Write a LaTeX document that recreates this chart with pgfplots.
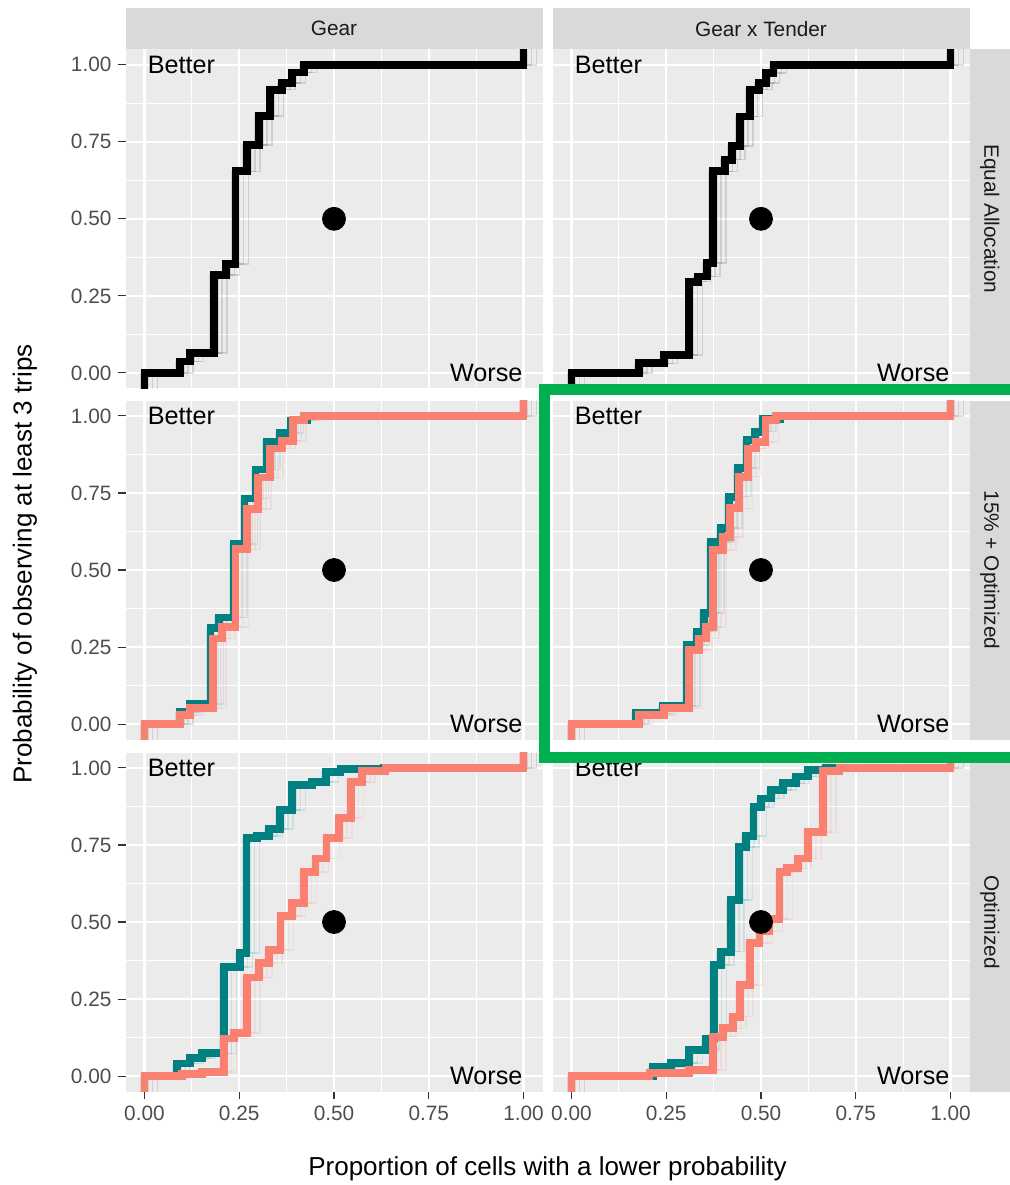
\documentclass[border=0pt]{standalone}
\usepackage{fontspec}
\setmainfont{Liberation Sans}
\usepackage{pgfplots}
\pgfplotsset{compat=1.18}
\usepackage{pgfplotstable}

\definecolor{panelbg}{HTML}{EBEBEB}
\definecolor{stripbg}{HTML}{D9D9D9}
\definecolor{tickgrey}{HTML}{4D4D4D}
\definecolor{tickmark}{HTML}{333333}
\definecolor{stripfg}{HTML}{1A1A1A}
\definecolor{tealc}{HTML}{008080}
\definecolor{salmonc}{HTML}{FA8072}
\definecolor{boxgreen}{HTML}{00B050}

% step curves (x, level from x on)
\pgfplotstableread{
x y
0 -0.1
0 0
0.093 0.037
0.121 0.064
0.183 0.318
0.216 0.354
0.240 0.654
0.271 0.740
0.302 0.834
0.332 0.919
0.363 0.940
0.390 0.975
0.420 1.000
1 1
1 1.2
}\gearEq

\pgfplotstableread{
x y
0 -0.1
0 0
0.178 0.031
0.245 0.058
0.311 0.296
0.333 0.313
0.357 0.356
0.373 0.654
0.404 0.692
0.424 0.737
0.445 0.832
0.470 0.919
0.494 0.940
0.514 0.973
0.533 1.000
1 1
1 1.2
}\tendEq

\pgfplotstableread{
x y
0 -0.1
0 0
0.093 0.029
0.121 0.051
0.181 0.278
0.205 0.316
0.240 0.567
0.271 0.697
0.299 0.800
0.331 0.894
0.363 0.919
0.392 0.988
0.420 1.000
1 1
1 1.2
}\gearMixS

\pgfplotstableread{
x y
0 -0.1
0 0
0.093 0.040
0.121 0.065
0.174 0.311
0.196 0.346
0.236 0.584
0.264 0.732
0.293 0.826
0.324 0.916
0.357 0.945
0.385 0.985
0.430 1.000
1 1
1 1.2
}\gearMixT

\pgfplotstableread{
x y
0 -0.1
0 0
0.179 0.029
0.245 0.051
0.311 0.240
0.336 0.278
0.355 0.316
0.373 0.565
0.399 0.608
0.419 0.700
0.443 0.803
0.465 0.894
0.487 0.916
0.512 0.988
0.540 1.000
1 1
1 1.2
}\tendMixS

\pgfplotstableread{
x y
0 -0.1
0 0
0.170 0.035
0.240 0.058
0.305 0.256
0.330 0.300
0.350 0.360
0.368 0.590
0.395 0.636
0.415 0.738
0.440 0.831
0.462 0.922
0.485 0.949
0.505 0.990
0.550 1.000
1 1
1 1.2
}\tendMixT

\pgfplotstableread{
x y
0 -0.1
0 0
0.086 0.041
0.121 0.058
0.152 0.074
0.209 0.355
0.251 0.399
0.269 0.772
0.297 0.779
0.328 0.801
0.357 0.864
0.390 0.945
0.442 0.955
0.478 0.988
0.517 0.996
0.631 1.000
1 1
1 1.2
}\gearOptT

\pgfplotstableread{
x y
0 -0.1
0 0
0.100 0.006
0.152 0.013
0.209 0.122
0.236 0.139
0.271 0.320
0.302 0.366
0.328 0.409
0.359 0.519
0.390 0.561
0.420 0.663
0.451 0.706
0.480 0.772
0.513 0.837
0.544 0.955
0.574 0.991
0.636 1.000
1 1
1 1.2
}\gearOptS

\pgfplotstableread{
x y
0 -0.1
0 0
0.215 0.030
0.263 0.043
0.311 0.084
0.355 0.122
0.375 0.360
0.395 0.404
0.421 0.571
0.443 0.744
0.461 0.779
0.480 0.874
0.500 0.901
0.527 0.929
0.558 0.950
0.593 0.972
0.624 0.994
0.672 1.000
1 1
1 1.2
}\tendOptT

\pgfplotstableread{
x y
0 -0.1
0 0
0.206 0.010
0.311 0.020
0.373 0.128
0.399 0.155
0.426 0.193
0.445 0.295
0.470 0.431
0.496 0.469
0.522 0.509
0.549 0.663
0.568 0.674
0.597 0.706
0.624 0.793
0.663 0.990
0.707 1.000
1 1
1 1.2
}\tendOptS

\pgfplotsset{
  panel/.style={
    scale only axis, width=208.5pt, height=169.5pt, anchor=north west,
    xmin=-0.05, xmax=1.05, ymin=-0.05, ymax=1.05,
    axis background/.style={fill=panelbg},
    axis line style={draw=none},
    xtick={0,0.25,0.5,0.75,1}, ytick={0,0.25,0.5,0.75,1},
    minor xtick={0.125,0.375,0.625,0.875},
    minor ytick={0.125,0.375,0.625,0.875},
    grid=both,
    major grid style={draw=white, line width=1.1pt},
    minor grid style={draw=white, line width=0.55pt},
    minor tick length=0pt, major tick length=3.5pt, tick align=outside,
    xtick pos=bottom, ytick pos=left,
    xtick style={draw=none}, ytick style={draw=none},
    ticklabel style={font=\fontsize{10.4}{12}\selectfont, text=tickgrey},
    xticklabel style={/pgf/number format/.cd, fixed, fixed zerofill,
      precision=2, assume math mode=true},
    yticklabel style={/pgf/number format/.cd, fixed, fixed zerofill,
      precision=2, assume math mode=true},
    no markers,
  },
  noxl/.style={xticklabels={}},
  noyl/.style={yticklabels={}},
  xt/.style={xtick style={draw=tickmark, line width=0.55pt}},
  yt/.style={ytick style={draw=tickmark, line width=0.55pt}},
  main/.style={const plot, line width=3.9pt},
  ens/.style={const plot, line width=0.8pt, opacity=0.12},
}

\newcommand{\panelmarks}{%
  \addplot[only marks, mark=*, mark size=5.75pt, black] coordinates {(0.5,0.5)};
  \node[anchor=west, inner sep=0pt, font=\fontsize{12.6}{14}\selectfont]
    at (axis cs:0.008,1) {Better};
  \node[anchor=east, inner sep=0pt, font=\fontsize{12.6}{14}\selectfont]
    at (axis cs:0.998,0) {Worse};
}

% faint copies of a curve, for the spread of the replicate runs
\newcommand{\spread}[2]{%
  \addplot[ens, draw=#1, xshift=-2pt] table {#2};
  \addplot[ens, draw=#1, xshift=2pt] table {#2};
  \addplot[ens, draw=#1, xshift=4pt] table {#2};
  \addplot[ens, draw=#1, xshift=6.5pt] table {#2};
}

\begin{document}
\begin{tikzpicture}
\useasboundingbox (0,0) rectangle (505pt,-592.5pt);

% row 1: Equal Allocation
\begin{axis}[panel, noxl, yt, at={(62.75pt,-24.65pt)}]
  \spread{black}{\gearEq}
  \addplot[main, draw=black] table {\gearEq};
  \panelmarks
\end{axis}
\begin{axis}[panel, noxl, noyl, at={(276.25pt,-24.65pt)}]
  \spread{black}{\tendEq}
  \addplot[main, draw=black] table {\tendEq};
  \panelmarks
\end{axis}

% row 2: 15% + Optimized
\begin{axis}[panel, noxl, yt, at={(62.75pt,-200.25pt)}]
  \spread{tealc}{\gearMixT}
  \spread{salmonc}{\gearMixS}
  \addplot[main, draw=tealc] table {\gearMixT};
  \addplot[main, draw=salmonc] table {\gearMixS};
  \panelmarks
\end{axis}
\begin{axis}[panel, noxl, noyl, at={(276.25pt,-200.25pt)}]
  \spread{tealc}{\tendMixT}
  \spread{salmonc}{\tendMixS}
  \addplot[main, draw=tealc] table {\tendMixT};
  \addplot[main, draw=salmonc] table {\tendMixS};
  \panelmarks
\end{axis}

% row 3: Optimized
\begin{axis}[panel, xt, yt, at={(62.75pt,-376.25pt)}]
  \spread{tealc}{\gearOptT}
  \spread{salmonc}{\gearOptS}
  \addplot[main, draw=tealc] table {\gearOptT};
  \addplot[main, draw=salmonc] table {\gearOptS};
  \panelmarks
\end{axis}
\begin{axis}[panel, xt, noyl, at={(276.25pt,-376.25pt)}]
  \spread{tealc}{\tendOptT}
  \spread{salmonc}{\tendOptS}
  \addplot[main, draw=tealc] table {\tendOptT};
  \addplot[main, draw=salmonc] table {\tendOptS};
  \panelmarks
\end{axis}

% facet strips
\fill[stripbg] (62.75pt,-4.15pt) rectangle (271.25pt,-24.65pt);
\fill[stripbg] (276.25pt,-4.15pt) rectangle (484.75pt,-24.65pt);
\fill[stripbg] (484.75pt,-24.65pt) rectangle (505pt,-194.15pt);
\fill[stripbg] (484.75pt,-200.25pt) rectangle (505pt,-369.75pt);
\fill[stripbg] (484.75pt,-376.25pt) rectangle (505pt,-545.75pt);
\begin{scope}[every node/.style={font=\fontsize{10.4}{12}\selectfont, text=stripfg, inner sep=0pt}]
  \node at (167pt,-14.4pt) {Gear};
  \node at (380.5pt,-14.4pt) {Gear x Tender};
  \node[rotate=-90] at (494.9pt,-109.4pt) {Equal Allocation};
  \node[rotate=-90] at (494.9pt,-285pt) {15\% + Optimized};
  \node[rotate=-90] at (494.9pt,-461pt) {Optimized};
\end{scope}

% axis titles
\node[anchor=base, font=\fontsize{13}{15}\selectfont] at (273.75pt,-587.5pt)
  {Proportion of cells with a lower probability};
\node[rotate=90, font=\fontsize{13}{15}\selectfont] at (12.5pt,-282pt)
  {Probability of observing at least 3 trips};

% highlight box
\draw[boxgreen, line width=5.5pt] (272pt,-194.5pt) rectangle (520pt,-378.6pt);
\end{tikzpicture}
\end{document}
